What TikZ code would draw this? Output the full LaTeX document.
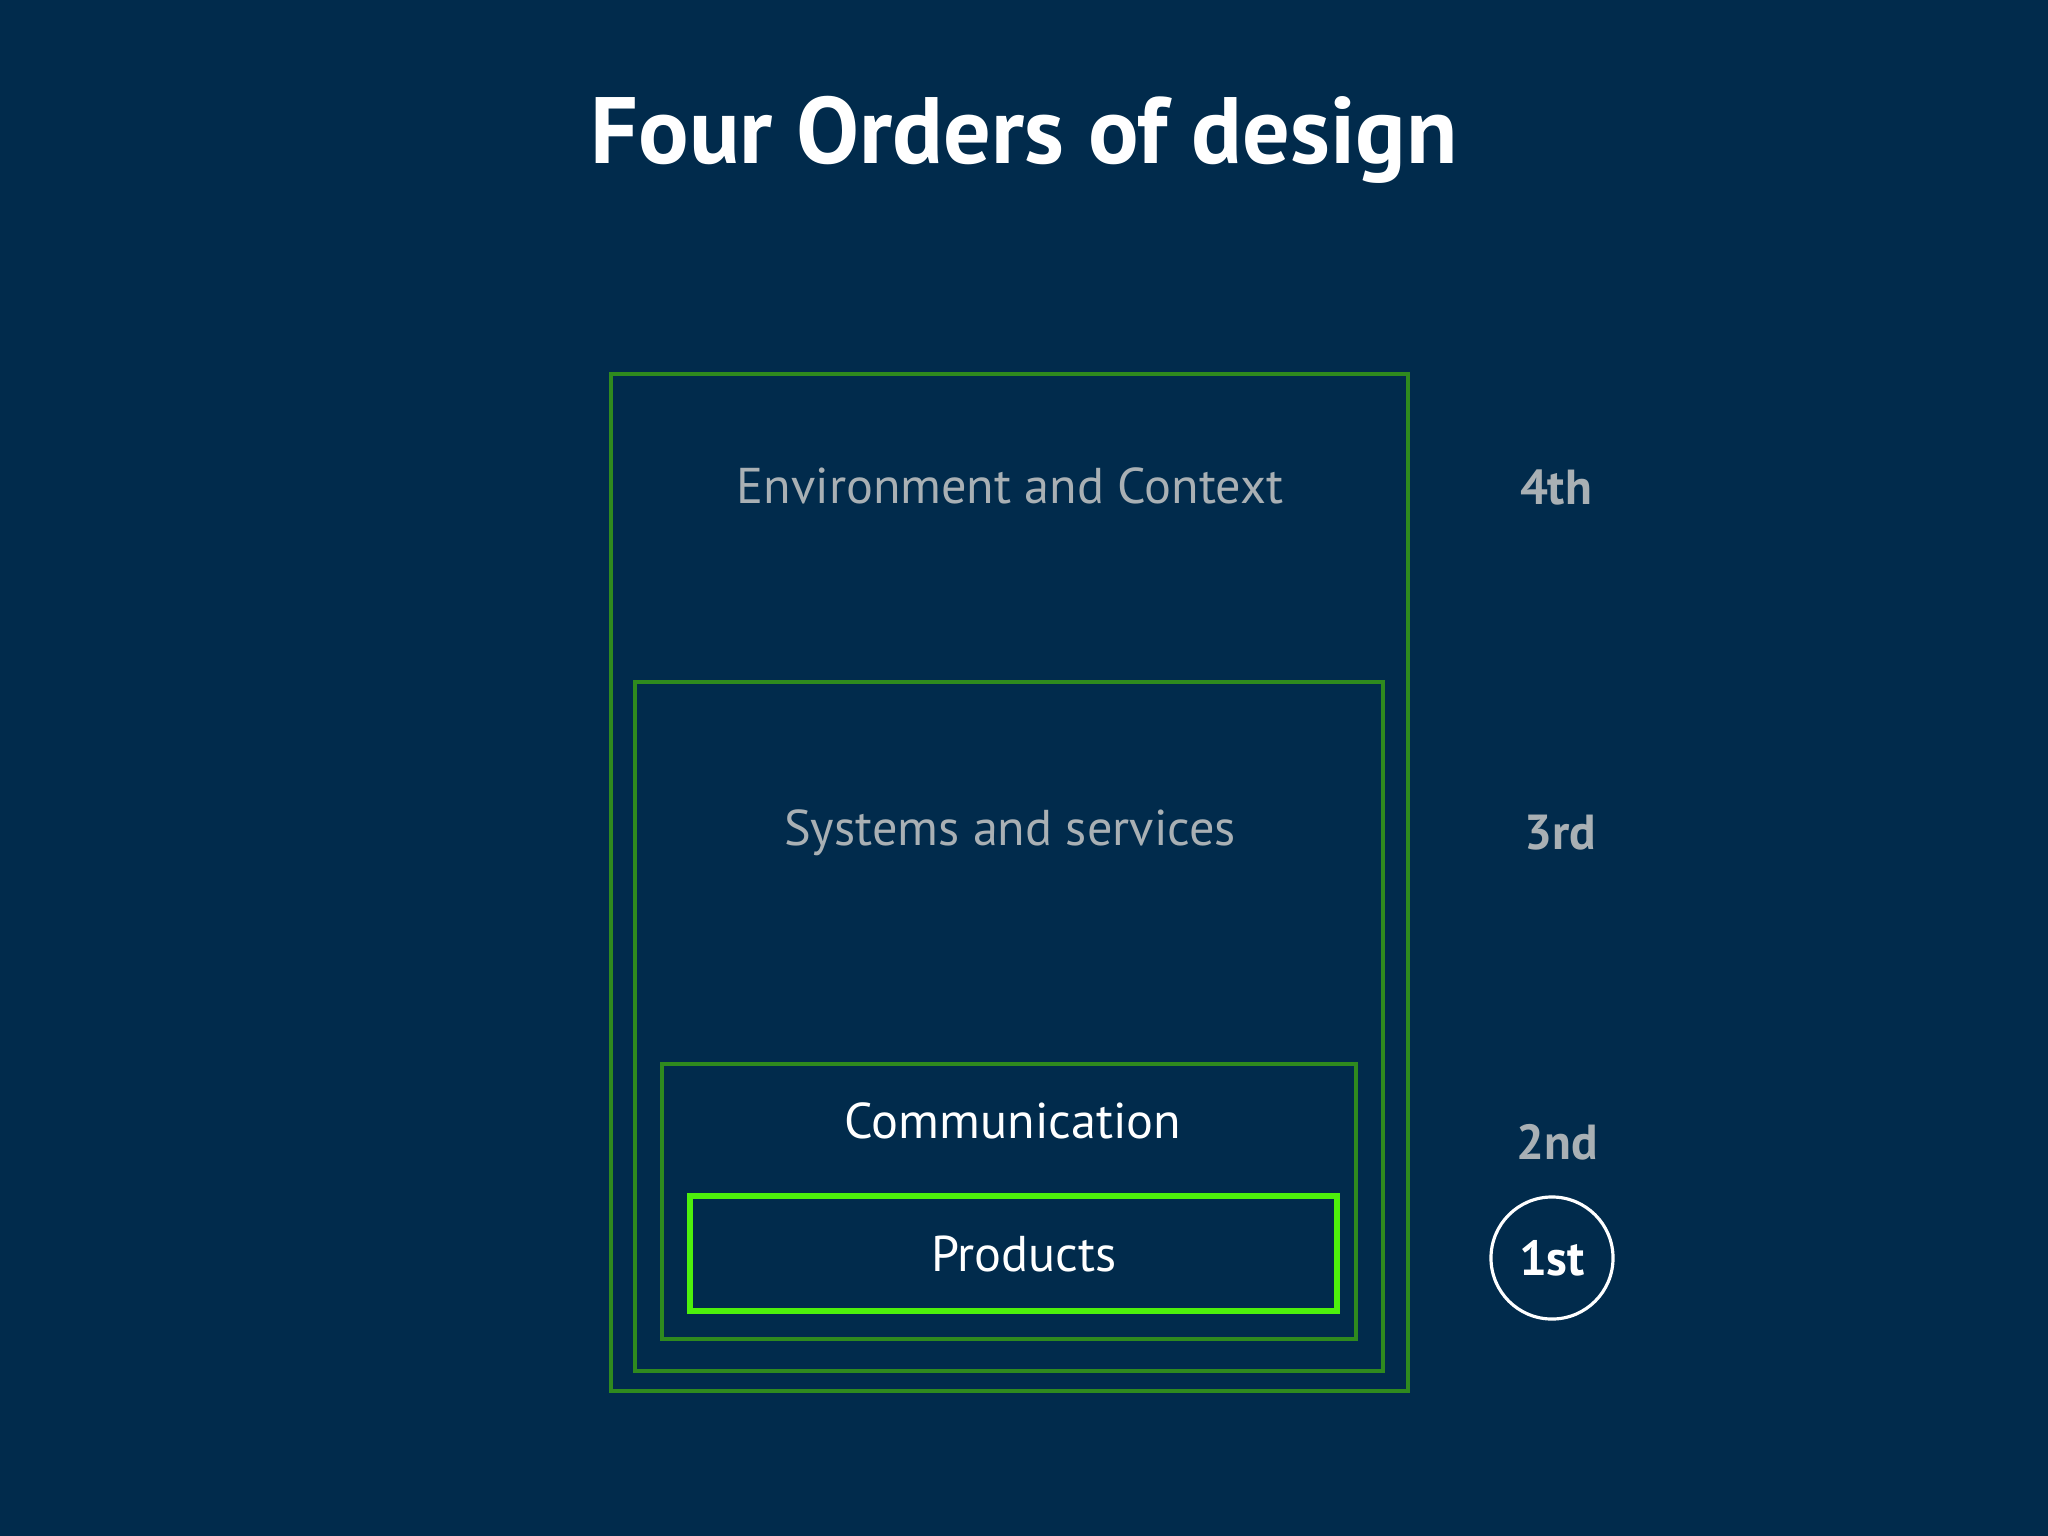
\documentclass[tikz,border=0pt]{standalone}
\usepackage{fontspec}
\setmainfont{PT Sans}
\definecolor{navy}{HTML}{012B4C}
\definecolor{leaf}{HTML}{2F8A1E}
\definecolor{lime}{HTML}{4DF00C}
\definecolor{mist}{HTML}{A9B0B4}
\begin{document}
\begin{tikzpicture}[x=0.01cm, y=-0.01cm,
    box/.style = {draw=leaf, line width=1.2pt, inner sep=0pt},
    lbl/.style = {font=\fontsize{14.3}{17}\selectfont, text=mist},
    ord/.style = {font=\bfseries\fontsize{14}{17}\selectfont, text=mist}]
        \fill[navy] (0,0) rectangle (2048,1536);
        \useasboundingbox (0,0) rectangle (2048,1536);
        \node[font=\bfseries\fontsize{26.8}{32}\selectfont, text=white] (title) at (1024,140) {Four Orders of design};
        %
        \node[box, minimum width=7.97cm, minimum height=10.17cm] (env) at (1009.5,882.5) {};
        \node[box, minimum width=7.48cm, minimum height=6.89cm] (sys) at (1009,1026.5) {};
        \node[box, minimum width=6.94cm, minimum height=2.75cm] (com) at (1009,1201.5) {};
        \node[box, draw=lime, line width=1.6pt, minimum width=6.47cm, minimum height=1.15cm] (pro) at (1013.5,1253.5) {};
        %
        \node[lbl] (tenv) at (1010,486) {Environment and Context};
        \node[lbl] (tsys) at (1010,833) {Systems and services};
        \node[lbl, text=white] (tcom) at (1013,1121) {Communication};
        \node[lbl, text=white] (tpro) at (1024,1254) {Products};
        %
        \node[ord] (o4) at (1556,487) {4th};
        \node[ord] (o3) at (1560,833) {3rd};
        \node[ord] (o2) at (1557,1142) {2nd};
        \node[ord, text=white, draw=white, line width=0.9pt, circle, minimum size=1.22cm] (o1) at (1552,1258) {1st};
      \end{tikzpicture}
\end{document}
